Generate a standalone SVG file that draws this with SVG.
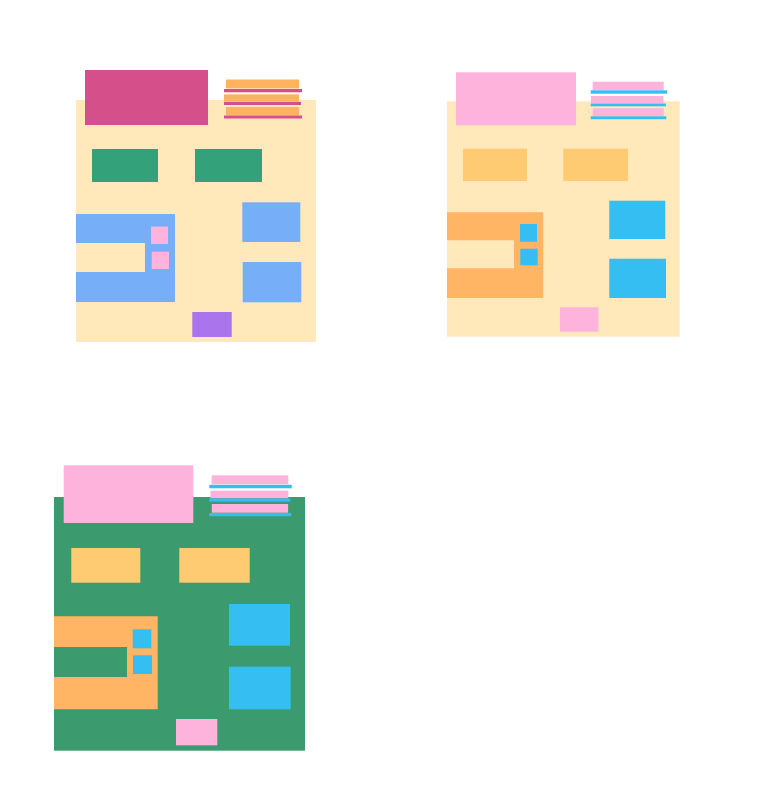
<svg xmlns="http://www.w3.org/2000/svg" width="768" height="800" viewBox="0 0 768 800">
<style>
.beige{fill:#FFE8B9}
.mag{fill:#D54F8B}
.grn{fill:#33A27A}
.blu{fill:#76AFF8}
.pnk{fill:#FDB3DC}
.pur{fill:#A974EC}
.org{fill:#FFB35F}
.lorg{fill:#FFCB72}
.cyn{fill:#35BEF2}
.dgrn{fill:#3B9B6F}
</style>
<rect width="768" height="800" fill="#FFFFFF"/>
<g id="panel1">
  <rect id="p1-bg" class="beige" x="76" y="100" width="240" height="242"/>
  <rect id="p1-header" class="mag" x="85" y="70" width="123" height="55"/>
  <g id="p1-stack">
    <rect class="org" x="226" y="79.5" width="73" height="9"/>
    <rect class="mag" x="224" y="89" width="78" height="3.3"/>
    <rect class="org" x="224" y="94.3" width="75" height="7.5"/>
    <rect class="mag" x="224" y="102" width="77" height="3"/>
    <rect class="org" x="226" y="107" width="73" height="8.3"/>
    <rect class="mag" x="224" y="115.5" width="78" height="3"/>
  </g>
  <rect id="p1-g1" class="grn" x="92" y="149" width="66" height="33"/>
  <rect id="p1-g2" class="grn" x="195" y="149" width="67" height="33"/>
  <path id="p1-c" class="blu" d="M76 214H175V302H76V272H145V243H76Z"/>
  <rect id="p1-s1" class="pnk" x="151" y="226.5" width="17" height="17.5"/>
  <rect id="p1-s2" class="pnk" x="151.7" y="251.7" width="17.3" height="17.3"/>
  <rect id="p1-r1" class="blu" x="242.3" y="202.3" width="58" height="39.7"/>
  <rect id="p1-r2" class="blu" x="242.7" y="262" width="58.6" height="40.3"/>
  <rect id="p1-b" class="pur" x="192.3" y="312" width="39.4" height="25"/>
</g>
<g id="panel2">
  <rect id="p2-bg" class="beige" x="447" y="101.3" width="232.7" height="235.4"/>
  <rect id="p2-header" class="pnk" x="456" y="72.3" width="120" height="53"/>
  <g id="p2-stack">
    <rect class="pnk" x="592.7" y="81.7" width="71" height="8.5"/>
    <rect class="cyn" x="590.7" y="90.3" width="76.5" height="3.4"/>
    <rect class="pnk" x="591" y="96" width="72.5" height="7.3"/>
    <rect class="cyn" x="590.7" y="103.5" width="75.2" height="2.8"/>
    <rect class="pnk" x="592.7" y="108.3" width="71" height="7.7"/>
    <rect class="cyn" x="590.7" y="116.3" width="75.6" height="2.9"/>
  </g>
  <rect id="p2-o1" class="lorg" x="463" y="148.7" width="64" height="32.3"/>
  <rect id="p2-o2" class="lorg" x="563.3" y="148.7" width="64.7" height="32.3"/>
  <path id="p2-c" fill="#FFB563" d="M447 212.3H543.3V298H447V268.3H514V240.3H447Z"/>
  <rect id="p2-s1" class="cyn" x="520" y="224" width="17" height="17.7"/>
  <rect id="p2-s2" class="cyn" x="520.3" y="248.7" width="17.4" height="16.6"/>
  <rect id="p2-r1" class="cyn" x="609.3" y="200.7" width="56" height="38.3"/>
  <rect id="p2-r2" class="cyn" x="609.3" y="258.7" width="56.7" height="39.3"/>
  <rect id="p2-b" class="pnk" x="560" y="307.3" width="38.3" height="24.4"/>
</g>
<g id="panel3">
  <rect id="p3-bg" class="dgrn" x="54" y="497" width="251" height="253.7"/>
  <rect id="p3-header" class="pnk" x="63.7" y="465.3" width="129.6" height="57.7"/>
  <g id="p3-stack">
    <rect class="pnk" x="211.7" y="475.3" width="76.6" height="9"/>
    <rect class="cyn" x="209.3" y="484.8" width="82.4" height="3.5"/>
    <rect class="pnk" x="210.5" y="490.7" width="77.8" height="7.6"/>
    <rect class="cyn" x="209.3" y="498.5" width="81" height="3.2"/>
    <rect class="pnk" x="211.8" y="504" width="76.3" height="8.7"/>
    <rect class="cyn" x="209.3" y="513" width="81.8" height="3.2"/>
  </g>
  <rect id="p3-o1" class="lorg" x="71.3" y="548" width="69" height="34.7"/>
  <rect id="p3-o2" class="lorg" x="179.3" y="548" width="70.4" height="34.7"/>
  <path id="p3-c" fill="#FFB563" d="M54 616.3H157.7V709.3H54V677H127V647H54Z"/>
  <rect id="p3-s1" class="cyn" x="132.7" y="629.3" width="18.6" height="19"/>
  <rect id="p3-s2" class="cyn" x="133" y="655.3" width="19" height="18.7"/>
  <rect id="p3-r1" class="cyn" x="229" y="604" width="61" height="41.7"/>
  <rect id="p3-r2" class="cyn" x="229" y="666.7" width="61.7" height="42.6"/>
  <rect id="p3-b" class="pnk" x="176" y="719" width="41.3" height="26.3"/>
</g>
<g id="connectors"/>
</svg>
